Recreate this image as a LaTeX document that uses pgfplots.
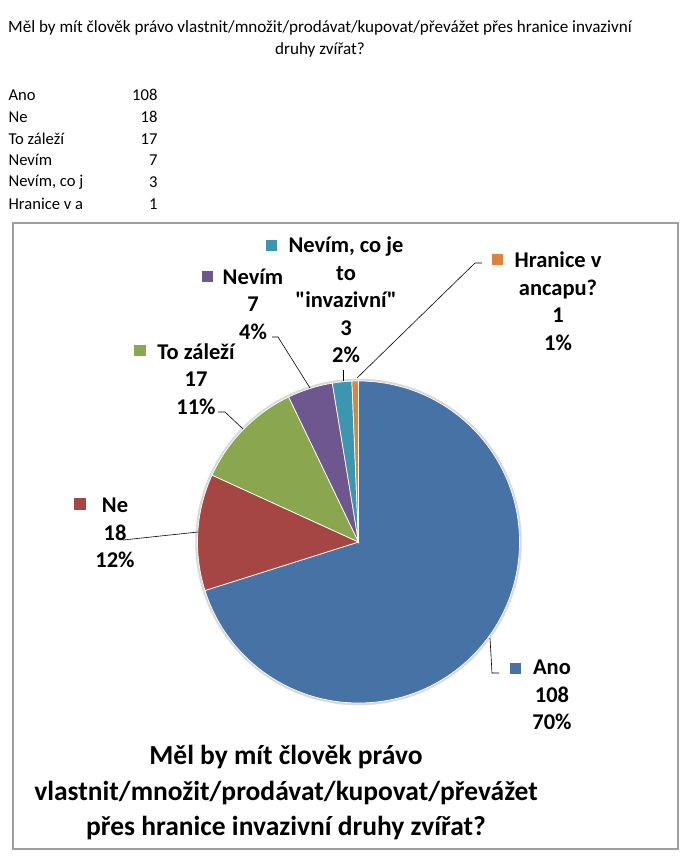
\documentclass[border=0pt]{standalone}
\usepackage{pgfplots}
\usepackage{pgfplotstable}
\pgfplotsset{compat=1.18}
\usepackage{fontspec}
\setmainfont{Carlito}[Ligatures=TeXOff]

% slice colours (Excel 2007 palette, a bit darker)
\definecolor{pie0}{HTML}{4672A6}
\definecolor{pie1}{HTML}{A54644}
\definecolor{pie2}{HTML}{8AA64F}
\definecolor{pie3}{HTML}{6E568F}
\definecolor{pie4}{HTML}{3D96AF}
\definecolor{pie5}{HTML}{DA843D}

\pgfplotstableread{
value
108
18
17
7
3
1
}\piedata

\newcommand\lblfont{\fontsize{22.5}{27.5}\selectfont\bfseries}
\newcommand\smallfont{\fontsize{16.6}{21.8}\selectfont}

\begin{document}
\begin{tikzpicture}
% total and slice angles (start at 12 o'clock, clockwise)
\def\pietotal{0}%
\foreach \i in {0,...,5}{%
  \pgfplotstablegetelem{\i}{value}\of\piedata
  \pgfmathsetmacro\t{\pietotal+\pgfplotsretval}%
  \xdef\pietotal{\t}}%
\xdef\cur{90}%
\foreach \i in {0,...,5}{%
  \pgfplotstablegetelem{\i}{value}\of\piedata
  \pgfmathsetmacro\e{\cur-\pgfplotsretval/\pietotal*360}%
  \expandafter\xdef\csname sa\i\endcsname{\cur}%
  \expandafter\xdef\csname ea\i\endcsname{\e}%
  \xdef\cur{\e}}%
\begin{axis}[
  scale only axis,
  width=693pt, height=864pt,
  xmin=0, xmax=693, ymin=0, ymax=864,
  y dir=reverse,
  hide axis,
  clip=false
]
% chart frame
\draw[gray!75, line width=1.5pt] (axis cs:13,223) rectangle (axis cs:678,849);

% soft halo round the pie
\draw[gray!30, line width=2.5pt] (axis cs:358.5,542) circle[radius=162pt];

% slices
\pgfplotsinvokeforeach{0,...,5}{
  \fill[pie#1, draw=white, line width=0.7pt]
    (axis cs:358.5,542) -- ++(\csname sa#1\endcsname:161pt)
    arc[start angle=\csname sa#1\endcsname, end angle=\csname ea#1\endcsname, radius=161pt] -- cycle;
}

% leader lines
\draw[black, line width=0.6pt] (axis cs:490,638) -- (axis cs:492,673) -- (axis cs:499,673);
\draw[black, line width=0.6pt] (axis cs:198,532) -- (axis cs:123,540);
\draw[black, line width=0.6pt] (axis cs:218,412) -- (axis cs:225,412) -- (axis cs:243,429);
\draw[black, line width=0.6pt] (axis cs:272,337) -- (axis cs:278,337) -- (axis cs:310,388);
\draw[black, line width=0.6pt] (axis cs:343,370) -- (axis cs:343,381);
\draw[black, line width=0.6pt] (axis cs:357,378) -- (axis cs:475,263) -- (axis cs:482,263);

% legend keys of the data labels
\fill[pie0] (axis cs:510,663) rectangle (axis cs:521,674);
\fill[pie1] (axis cs:74,498) rectangle (axis cs:86,510);
\fill[pie2] (axis cs:134,345) rectangle (axis cs:146,356);
\fill[pie3] (axis cs:202,271) rectangle (axis cs:213,282);
\fill[pie4] (axis cs:266,240) rectangle (axis cs:277,251);
\fill[pie5] (axis cs:492,254) rectangle (axis cs:503,265);

% data labels
\node[align=center, font=\lblfont] at (axis cs:552,695) {Ano\\108\\70\%};
\node[align=center, font=\lblfont] at (axis cs:115,533) {Ne\\18\\12\%};
\node[align=center, font=\lblfont] at (axis cs:196,379) {To záleží\\17\\11\%};
\node[align=center, font=\lblfont] at (axis cs:253,304) {Nevím\\7\\4\%};
\node[align=center, font=\lblfont] at (axis cs:346,300) {Nevím, co je\\to\\"invazivní"\\3\\2\%};
\node[align=center, font=\lblfont] at (axis cs:558,301) {Hranice v\\ancapu?\\1\\1\%};

% chart title
\node[align=center, font=\fontsize{27.5}{35.5}\selectfont\bfseries] at (axis cs:286,793)
  {Měl by mít člověk právo\\vlastnit/množit/prodávat/kupovat/převážet\\přes hranice invazivní druhy zvířat?};

% sheet title and data table
\node[align=center, font=\fontsize{17.1}{22}\selectfont] at (axis cs:320,39)
  {Měl by mít člověk právo vlastnit/množit/prodávat/kupovat/převážet přes hranice invazivní\\druhy zvířat?};
\node[anchor=west, font=\smallfont] at (axis cs:5,95) {Ano};
\node[anchor=west, font=\smallfont] at (axis cs:5,117) {Ne};
\node[anchor=west, font=\smallfont] at (axis cs:5,139) {To záleží};
\node[anchor=west, font=\smallfont] at (axis cs:5,160) {Nevím};
\node[anchor=west, font=\smallfont] at (axis cs:5,182) {Nevím, co j};
\node[anchor=west, font=\smallfont] at (axis cs:5,204) {Hranice v a};
\node[anchor=east, font=\smallfont] at (axis cs:161,95) {108};
\node[anchor=east, font=\smallfont] at (axis cs:161,117) {18};
\node[anchor=east, font=\smallfont] at (axis cs:161,139) {17};
\node[anchor=east, font=\smallfont] at (axis cs:161,160) {7};
\node[anchor=east, font=\smallfont] at (axis cs:161,182) {3};
\node[anchor=east, font=\smallfont] at (axis cs:161,204) {1};
\end{axis}
\pgfresetboundingbox
\path (current axis.south west) rectangle (current axis.north east);
\end{tikzpicture}
\end{document}
